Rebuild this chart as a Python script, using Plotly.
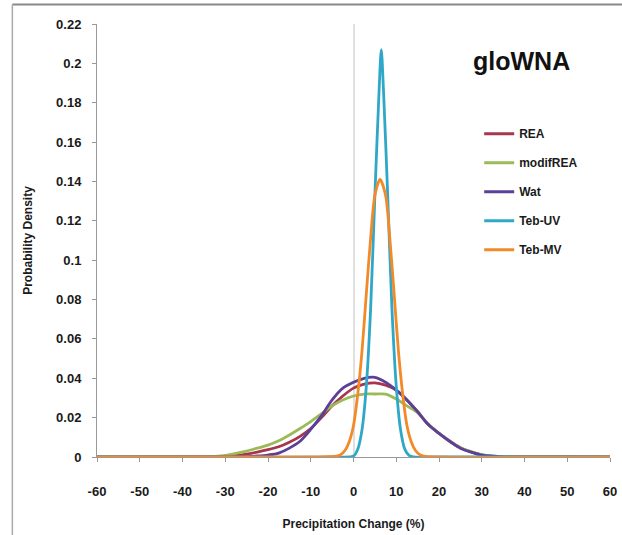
import plotly.graph_objects as go

# ---- data ----
x_wide = [-60, -40, -35, -32.5, -30, -27.5, -25, -22.5, -20, -17.5, -15, -12.5, -10, -7.5, -5, -2.5,
          0, 2.5, 5, 7.5, 10, 12.5, 15, 17.5, 20, 22.5, 25, 27.5, 30, 32.5, 35, 40, 60]
rea = [0, 0, 0, 0.0001, 0.0003, 0.0008, 0.0015, 0.0025, 0.0037, 0.0052, 0.0075, 0.0105, 0.0145, 0.020, 0.026, 0.031,
       0.035, 0.037, 0.0377, 0.0365, 0.034, 0.029, 0.023, 0.0165, 0.012, 0.008, 0.0047, 0.0026, 0.0011, 0.0004, 0.0001, 0, 0]
modifrea = [0, 0, 0, 0.0003, 0.0008, 0.0018, 0.003, 0.0045, 0.006, 0.0082, 0.0112, 0.0145, 0.018, 0.022, 0.026, 0.029,
            0.031, 0.032, 0.032, 0.032, 0.0295, 0.026, 0.0225, 0.0168, 0.0122, 0.0082, 0.0048, 0.0027, 0.0012, 0.0005, 0.0002, 0, 0]
wat = [0, 0, 0, 0, 0, 0.0001, 0.0002, 0.0005, 0.001, 0.002, 0.0045, 0.008, 0.014, 0.021, 0.029, 0.035,
       0.038, 0.040, 0.0405, 0.038, 0.034, 0.029, 0.023, 0.0165, 0.012, 0.008, 0.0045, 0.0025, 0.001, 0.0004, 0.0001, 0, 0]

x_uv = [-60, -5, 0, 1, 2, 3, 4, 5, 6, 6.5, 7, 8, 9, 10, 11, 12, 13, 14, 20, 60]
teb_uv = [0, 0, 0.0005, 0.004, 0.014, 0.036, 0.075, 0.133, 0.187, 0.207, 0.187, 0.133, 0.075, 0.036, 0.014, 0.004, 0.0008, 0, 0, 0]

x_mv = [-60, -10, -4, -3, -2, -1, 0, 1, 2, 3, 4, 5, 6.2, 7.5, 8.5, 9.5, 10.5, 11.5, 12.5, 13.5, 14.5, 15.5, 16.5, 20, 60]
teb_mv = [0, 0, 0.0004, 0.0012, 0.0033, 0.0078, 0.016, 0.032, 0.054, 0.083, 0.111, 0.133, 0.141, 0.133, 0.111,
          0.083, 0.054, 0.032, 0.016, 0.0078, 0.0033, 0.0012, 0.0004, 0, 0]

series = [
    ("REA", x_wide, rea, "#A8344E"),
    ("modifREA", x_wide, modifrea, "#9BBB59"),
    ("Wat", x_wide, wat, "#5B3F98"),
    ("Teb-UV", x_uv, teb_uv, "#2FA8C8"),
    ("Teb-MV", x_mv, teb_mv, "#F28A2A"),
]

x_ticks = [-60, -50, -40, -30, -20, -10, 0, 10, 20, 30, 40, 50, 60]
x_labels = ["-60", "-50", "-40", "-30", "-20", "-10", "0", "10", "20", "30", "40", "50", "60"]
y_ticks = [0, 0.02, 0.04, 0.06, 0.08, 0.1, 0.12, 0.14, 0.16, 0.18, 0.2, 0.22]
y_labels = ["0", "0.02", "0.04", "0.06", "0.08", "0.1", "0.12", "0.14", "0.16", "0.18", "0.2", "0.22"]

FONT = "Liberation Sans Narrow, Liberation Sans, Arial, sans-serif"

fig = go.Figure()
for i, (name, xs, ys, col) in enumerate(series):
    fig.add_trace(go.Scatter(x=xs, y=ys, mode="lines", name=name, legendgroup=str(i),
                             line=dict(color=col, width=2.8, shape="spline", smoothing=0.8)))

fig.update_layout(
    width=622, height=535,
    margin=dict(l=97, r=12, t=24, b=78),
    paper_bgcolor="white", plot_bgcolor="white",
    font=dict(family=FONT, color="#1a1a1a", size=12),
    showlegend=True,
    legend=dict(x=0.745, y=0.78, xanchor="left", yanchor="top", bgcolor="rgba(0,0,0,0)",
                font=dict(size=12, weight="bold", family=FONT), tracegroupgap=10, itemwidth=30),
    xaxis=dict(range=[-60, 60], tickvals=x_ticks, ticktext=x_labels, ticks="outside", ticklen=4, tickcolor="#999",
               showline=True, linecolor="#999", linewidth=1, showgrid=False, automargin=False,
               zeroline=True, zerolinecolor="#e0e0e0", zerolinewidth=1.5,
               tickfont=dict(size=13, weight="bold"), ticklabelstandoff=18,
               title=dict(text="Precipitation Change (%)", font=dict(size=12, weight="bold"), standoff=22)),
    yaxis=dict(range=[0, 0.22], tickvals=y_ticks, ticktext=y_labels, ticks="outside", ticklen=4,
               tickcolor="#999", showline=True, linecolor="#999", linewidth=1, showgrid=False, automargin=False,
               zeroline=False, tickfont=dict(size=13, weight="bold"), ticklabelstandoff=8,
               title=dict(text="Probability Density", font=dict(size=12, weight="bold"), standoff=20)),
    annotations=[dict(text="<b>gloWNA</b>", x=0.73, y=0.915, xref="paper", yref="paper",
                      xanchor="left", yanchor="middle", showarrow=False,
                      font=dict(size=25, family="Liberation Sans, Arial", color="#111"))],
    shapes=[
        dict(type="line", xref="paper", yref="paper", x0=-0.165, x1=1.03, y0=1.045, y1=1.045,
             line=dict(color="#888", width=2)),
        dict(type="line", xref="paper", yref="paper", x0=-0.165, x1=-0.165, y0=-0.2, y1=1.045,
             line=dict(color="#aaa", width=1.5)),
    ],
)

fig.write_html("out.html")
